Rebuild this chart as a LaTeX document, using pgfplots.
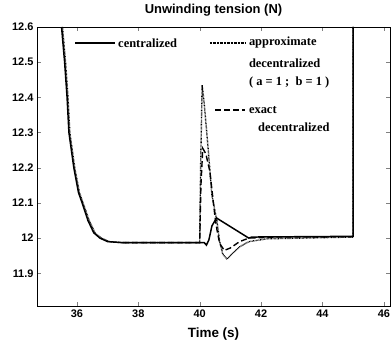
\documentclass[border=0pt]{standalone}
\usepackage{fontspec}
\setmainfont{Liberation Sans}
\newfontfamily\timesfont{Liberation Serif}
\usepackage{pgfplots}
\pgfplotsset{compat=1.18}
\begin{document}
\begin{tikzpicture}
\begin{axis}[name=ax, scale only axis, width=353bp, height=279bp,
 xmin=34.7, xmax=46.2, ymin=11.807, ymax=12.6,
 xtick={36,38,40,42,44,46}, ytick={11.9,12,12.1,12.2,12.3,12.4,12.5,12.6},
 /pgf/number format/assume math mode=true,
 tick label style={font=\bfseries\fontsize{11}{13}\selectfont},
 tick align=inside, major tick length=4bp,
 title={Unwinding tension (N)},
 title style={font=\bfseries\fontsize{13}{15}\selectfont, at={(0.5,1)}, anchor=south, yshift=1bp},
 xlabel={Time (s)}, xlabel style={font=\bfseries\fontsize{13.5}{15}\selectfont, yshift=-4bp},
 axis line style={line width=0.8pt}]
% centralized
\addplot[black, line width=1.5pt] coordinates {
(35.5,12.6) (35.6,12.5) (35.68,12.4) (35.74,12.3) (35.9,12.2) (36.05,12.13)
(36.17,12.1) (36.36,12.05) (36.55,12.015) (36.75,12.0) (37.0,11.99) (37.5,11.987)
(40.15,11.987) (40.22,11.98) (40.3,11.995) (40.4,12.035) (40.55,12.057)
(41.6,12.0) (41.7,12.003) (45.0,12.005) (45.0,12.6)};
% approximate decentralized
\addplot[black, line width=1.4pt, dash pattern=on 0.7pt off 0.7pt] coordinates {
(35.53,12.6) (35.63,12.5) (35.71,12.4) (35.77,12.3) (35.93,12.2) (36.08,12.13)
(36.2,12.1) (36.4,12.05) (36.6,12.013) (36.8,12.0) (37.05,11.99) (37.5,11.987)
(40.0,11.987) (40.03,12.2) (40.08,12.435) (40.15,12.38) (40.27,12.26) (40.4,12.12)
(40.56,12.05) (40.65,11.99) (40.75,11.955) (40.89,11.94) (41.05,11.955) (41.3,11.975)
(41.6,11.99) (42.2,11.998) (45.0,12.003) (45.0,12.6)};
% exact decentralized
\addplot[black, line width=1.4pt, dash pattern=on 6pt off 3pt] coordinates {
(37.5,11.987) (40.0,11.987) (40.04,12.15) (40.1,12.255) (40.2,12.24) (40.33,12.19)
(40.5,12.06) (40.57,12.02) (40.65,11.985) (40.8,11.965) (41.0,11.972) (41.3,11.99)
(41.6,12.0) (42.5,12.003) (45.0,12.004)};
% legend
\draw[black, line width=1.5pt] (axis cs:35.94,12.555) -- (axis cs:37.24,12.555);
\node[anchor=west, inner sep=0pt, font=\timesfont\bfseries\fontsize{12.5}{14}\selectfont] at (axis cs:37.34,12.555) {centralized};
\draw[black, line width=1.4pt, dash pattern=on 0.7pt off 0.7pt] (axis cs:40.33,12.555) -- (axis cs:41.47,12.555);
\node[anchor=west, inner sep=0pt, font=\timesfont\bfseries\fontsize{12.5}{14}\selectfont] at (axis cs:41.6,12.555) {approximate};
\node[anchor=west, inner sep=0pt, font=\timesfont\bfseries\fontsize{12.5}{14}\selectfont] at (axis cs:41.6,12.496) {decentralized};
\node[anchor=west, inner sep=0pt, font=\timesfont\bfseries\fontsize{12.5}{14}\selectfont] at (axis cs:41.6,12.442) {( a = 1 ;\ \ b = 1 )};
\draw[black, line width=1.4pt, dash pattern=on 6pt off 3pt] (axis cs:40.5,12.364) -- (axis cs:41.47,12.364);
\node[anchor=west, inner sep=0pt, font=\timesfont\bfseries\fontsize{12.5}{14}\selectfont] at (axis cs:41.6,12.364) {exact};
\node[anchor=west, inner sep=0pt, font=\timesfont\bfseries\fontsize{12.5}{14}\selectfont] at (axis cs:41.9,12.316) {decentralized};
\end{axis}
\pgfresetboundingbox
\path ([xshift=-37bp,yshift=-43bp]ax.south west) rectangle ([xshift=2bp,yshift=27bp]ax.north east);
\end{tikzpicture}
\end{document}
